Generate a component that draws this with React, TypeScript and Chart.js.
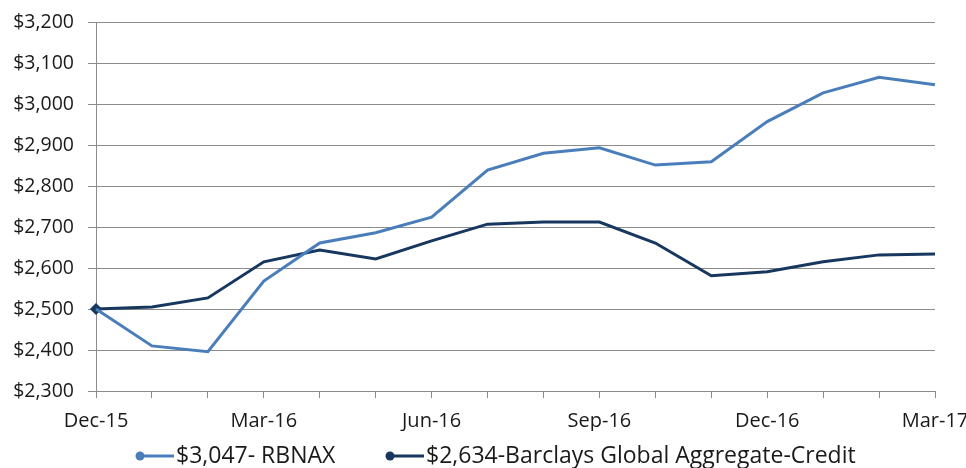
import React, { useEffect, useRef } from "react";
import { Chart, registerables } from "chart.js";

Chart.register(...registerables);

const categories = [
  "Dec-15", "Jan-16", "Feb-16", "Mar-16", "Apr-16", "May-16", "Jun-16", "Jul-16",
  "Aug-16", "Sep-16", "Oct-16", "Nov-16", "Dec-16", "Jan-17", "Feb-17", "Mar-17",
];
const rbnax = [2500, 2410, 2396, 2568, 2661, 2686, 2724, 2839, 2880, 2893, 2851, 2859, 2957, 3027, 3065, 3047];
const barclays = [2500, 2505, 2527, 2615, 2644, 2622, 2666, 2707, 2712, 2712, 2661, 2581, 2591, 2615, 2632, 2634];
const seriesNames = ["$3,047- RBNAX", "$2,634-Barclays Global Aggregate-Credit"];
const colors = ["#4A7EBB", "#17375E"];

const FONT = "'Open Sans', Lato, sans-serif";

const legendPlugin = {
  id: "customLegend",
  afterDraw(chart: any) {
    const ctx = chart.ctx;
    ctx.save();
    ctx.font = `23px ${FONT}`;
    ctx.textBaseline = "middle";
    ctx.textAlign = "left";
    const y = 456;
    const starts = [140, 390];
    chart.data.datasets.forEach((d: any, i: number) => {
      const x = starts[i];
      ctx.strokeStyle = colors[i];
      ctx.lineWidth = 3;
      ctx.beginPath();
      ctx.moveTo(x, y);
      ctx.lineTo(x + 34, y);
      ctx.stroke();
      ctx.fillStyle = colors[i];
      ctx.beginPath();
      ctx.arc(x, y, 4.5, 0, Math.PI * 2);
      ctx.fill();
      ctx.fillStyle = "#1a1a1a";
      ctx.fillText(d.label, x + 36, y);
    });
    ctx.restore();
  },
};

export default function App() {
  const ref = useRef<HTMLCanvasElement>(null);
  useEffect(() => {
    document.body.style.margin = "0";
    const chart = new Chart(ref.current!, {
      type: "line",
      data: {
        labels: categories,
        datasets: [
          {
            label: seriesNames[0],
            data: rbnax,
            borderColor: colors[0],
            backgroundColor: colors[0],
            borderWidth: 3,
            pointRadius: 0,
            tension: 0,
          },
          {
            label: seriesNames[1],
            data: barclays,
            borderColor: colors[1],
            backgroundColor: colors[1],
            borderWidth: 3,
            pointRadius: (c: any) => (c.dataIndex === 0 ? 4 : 0),
            pointStyle: "rectRot",
            tension: 0,
          },
        ],
      },
      options: {
        animation: false,
        responsive: false,
        layout: { padding: { top: 22, right: 31, bottom: 37, left: 0 } },
        plugins: { legend: { display: false }, tooltip: { enabled: false } },
        scales: {
          x: {
            type: "category",
            offset: false,
            afterFit: (s: any) => {
              s.height = 40;
              s.paddingLeft = 0;
              s.paddingRight = 0;
            },
            grid: {
              drawOnChartArea: false,
              drawTicks: true,
              tickLength: 7,
              color: "#8c8c8c",
            },
            border: { display: true, color: "#8c8c8c", width: 1 },
            ticks: {
              autoSkip: false,
              maxRotation: 0,
              padding: 11,
              color: "#1a1a1a",
              font: { family: FONT, size: 20 },
              callback: (_v: any, i: number) => (i % 3 === 0 ? categories[i] : ""),
            },
          },
          y: {
            min: 2300,
            max: 3200,
            afterFit: (s: any) => {
              s.width = 96;
              s.paddingTop = 0;
              s.paddingBottom = 0;
            },
            grid: { color: "#8c8c8c", tickLength: 8, lineWidth: 1 },
            border: { display: true, color: "#8c8c8c", width: 1 },
            ticks: {
              stepSize: 100,
              padding: 14,
              color: "#1a1a1a",
              font: { family: FONT, size: 19.5 },
              callback: (v: any) => "$" + Number(v).toLocaleString("en-US"),
            },
          },
        },
      },
      plugins: [legendPlugin],
    });
    return () => chart.destroy();
  }, []);
  return (
    <div style={{ width: 966, height: 468 }}>
      <canvas ref={ref} width={966} height={468} style={{ display: "block" }} />
    </div>
  );
}
